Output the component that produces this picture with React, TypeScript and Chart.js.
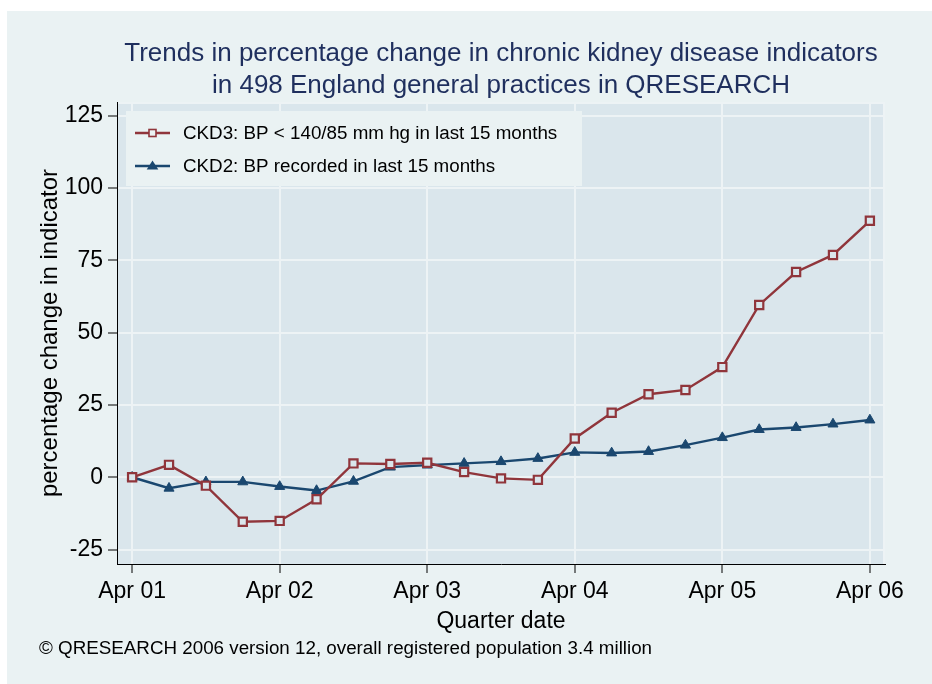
import React, { useEffect, useRef } from 'react';
import { Chart, registerables } from 'chart.js';

Chart.register(...registerables);

// ---- data ----
const quarters = [
  'Apr 01', 'Jul 01', 'Oct 01', 'Jan 02',
  'Apr 02', 'Jul 02', 'Oct 02', 'Jan 03',
  'Apr 03', 'Jul 03', 'Oct 03', 'Jan 04',
  'Apr 04', 'Jul 04', 'Oct 04', 'Jan 05',
  'Apr 05', 'Jul 05', 'Oct 05', 'Jan 06',
  'Apr 06',
];
const ckd3Values = [0, 4.3, -2.9, -15.4, -15.1, -7.6, 4.8, 4.6, 5.0, 1.8, -0.4, -0.9, 13.4, 22.3, 28.7, 30.2, 38.1, 59.6, 71.0, 76.9, 88.7];
const ckd2Values = [0, -3.8, -1.6, -1.6, -3.2, -4.6, -1.4, 3.5, 4.2, 4.8, 5.4, 6.5, 8.6, 8.4, 8.9, 11.1, 13.7, 16.5, 17.2, 18.4, 19.8];
const xTickLabels = ['Apr 01', 'Apr 02', 'Apr 03', 'Apr 04', 'Apr 05', 'Apr 06'];
const yTicks = [-25, 0, 25, 50, 75, 100, 125];
const seriesNames = ['CKD3: BP < 140/85 mm hg in last 15 months', 'CKD2: BP recorded in last 15 months'];
const titleLines = [
  'Trends in percentage change in chronic kidney disease indicators',
  'in 498 England general practices in QRESEARCH',
];
const xTitle = 'Quarter date';
const yTitle = 'percentage change in indicator';
const footerText = '\u00A9 QRESEARCH 2006 version 12, overall registered population 3.4 million';

// ---- style ----
const W = 932;
const H = 684;
const FONT = "'Liberation Sans', Arial, sans-serif";
const PANEL = '#EAF2F3';
const PLOT = '#DAE6EC';
const GRID = '#EDF3F5';
const RED = '#90353B';
const NAVY = '#1A476F';
const TITLE_COLOR = '#1F2F5E';

const decorPlugin = {
  id: 'decor',
  beforeDraw(chart: any) {
    const { ctx, chartArea: a } = chart;
    ctx.save();
    ctx.fillStyle = '#ffffff';
    ctx.fillRect(0, 0, W, H);
    ctx.fillStyle = PANEL;
    ctx.fillRect(7, 11, W - 7, H - 11);
    ctx.fillStyle = PLOT;
    ctx.fillRect(a.left, a.top, a.right - a.left, a.bottom - a.top);
    ctx.strokeStyle = GRID;
    ctx.lineWidth = 2;
    ctx.beginPath();
    ctx.moveTo(a.left, a.top + 1);
    ctx.lineTo(a.right - 1, a.top + 1);
    ctx.lineTo(a.right - 1, a.bottom);
    ctx.stroke();
    ctx.restore();
  },
  afterDraw(chart: any) {
    const { ctx, chartArea: a } = chart;
    ctx.save();
    // titles
    ctx.fillStyle = TITLE_COLOR;
    ctx.font = `26px ${FONT}`;
    ctx.textAlign = 'center';
    ctx.textBaseline = 'alphabetic';
    const cx = (a.left + a.right) / 2;
    ctx.fillText(titleLines[0], cx, 61);
    ctx.fillText(titleLines[1], cx, 93);

    // legend box
    const lx = a.left + 9;
    const ly = a.top + 9;
    ctx.fillStyle = PANEL;
    ctx.fillRect(lx, ly, 456, 75);
    const rows = [
      { y: ly + 22, color: RED, kind: 'square', text: seriesNames[0] },
      { y: ly + 55, color: NAVY, kind: 'triangle', text: seriesNames[1] },
    ];
    rows.forEach((r) => {
      ctx.strokeStyle = r.color;
      ctx.lineWidth = 2.3;
      ctx.beginPath();
      ctx.moveTo(lx + 9, r.y);
      ctx.lineTo(lx + 44, r.y);
      ctx.stroke();
      const mx = lx + 26.5;
      if (r.kind === 'square') {
        ctx.fillStyle = PANEL;
        ctx.fillRect(mx - 3.5, r.y - 3.5, 7, 7);
        ctx.lineWidth = 1.6;
        ctx.strokeRect(mx - 3.5, r.y - 3.5, 7, 7);
      } else {
        ctx.fillStyle = r.color;
        ctx.beginPath();
        ctx.moveTo(mx, r.y - 5.5);
        ctx.lineTo(mx + 5.8, r.y + 3.5);
        ctx.lineTo(mx - 5.8, r.y + 3.5);
        ctx.closePath();
        ctx.fill();
      }
      ctx.fillStyle = '#000';
      ctx.font = `18.8px ${FONT}`;
      ctx.textAlign = 'left';
      ctx.textBaseline = 'middle';
      ctx.fillText(r.text, lx + 57, r.y + 1);
    });

    // footer
    ctx.fillStyle = '#000';
    ctx.font = `18.8px ${FONT}`;
    ctx.textAlign = 'left';
    ctx.textBaseline = 'alphabetic';
    ctx.fillText(footerText, 39, 654);
    ctx.restore();
  },
};

export default function App() {
  const canvasRef = useRef<HTMLCanvasElement | null>(null);

  useEffect(() => {
    const canvas = canvasRef.current;
    if (!canvas) return;
    Chart.defaults.font.family = FONT;
    const chart = new Chart(canvas, {
      type: 'line',
      data: {
        datasets: [
          {
            label: seriesNames[0],
            data: ckd3Values.map((v, i) => ({ x: i, y: v })),
            borderColor: RED,
            borderWidth: 2.4,
            pointStyle: 'rect',
            pointRadius: 5.8,
            pointBorderWidth: 2.2,
            pointBackgroundColor: PLOT,
            pointBorderColor: RED,
            tension: 0,
          },
          {
            label: seriesNames[1],
            data: ckd2Values.map((v, i) => ({ x: i, y: v })),
            borderColor: NAVY,
            borderWidth: 2.4,
            pointStyle: 'triangle',
            pointRadius: 5.8,
            pointBorderWidth: 1,
            pointBackgroundColor: NAVY,
            pointBorderColor: NAVY,
            tension: 0,
          },
        ],
      },
      options: {
        responsive: false,
        maintainAspectRatio: false,
        animation: false,
        devicePixelRatio: 1,
        layout: { padding: { top: 102, right: 47, bottom: 0, left: 0 } },
        plugins: {
          legend: { display: false },
          title: { display: false },
          tooltip: { enabled: false },
        },
        scales: {
          x: {
            type: 'linear',
            min: -0.41,
            max: 20.41,
            afterBuildTicks: (s: any) => {
              s.ticks = xTickLabels.map((l) => ({ value: quarters.indexOf(l) }));
            },
            afterFit: (s: any) => {
              s.height = 120;
            },
            ticks: {
              callback: (v: any) => quarters[Math.round(Number(v))],
              font: { size: 23, family: FONT },
              color: '#000',
              padding: 5,
              maxRotation: 0,
              autoSkip: false,
            },
            grid: { color: GRID, lineWidth: 2, tickColor: '#000', tickWidth: 1, tickLength: 9 },
            border: { display: true, color: '#000', width: 1 },
            title: {
              display: true,
              text: xTitle,
              color: '#000',
              font: { size: 23, family: FONT },
              padding: { top: 0, bottom: 49 },
            },
          },
          y: {
            type: 'linear',
            min: -30,
            max: 129.8,
            afterBuildTicks: (s: any) => {
              s.ticks = yTicks.map((v) => ({ value: v }));
            },
            afterFit: (s: any) => {
              s.width = 117;
            },
            ticks: {
              font: { size: 23, family: FONT },
              color: '#000',
              padding: 5,
            },
            grid: { color: GRID, lineWidth: 2, tickColor: '#000', tickWidth: 1, tickLength: 9 },
            border: { display: true, color: '#000', width: 1 },
            title: {
              display: true,
              text: yTitle,
              color: '#000',
              font: { size: 24, family: FONT },
              padding: { top: 36, bottom: 0 },
            },
          },
        },
      },
      plugins: [decorPlugin],
    } as any);
    return () => chart.destroy();
  }, []);

  return (
    <div style={{ position: 'absolute', left: 0, top: 0, width: W, height: H }}>
      <canvas ref={canvasRef} width={W} height={H} style={{ display: 'block', width: W, height: H }} />
    </div>
  );
}
